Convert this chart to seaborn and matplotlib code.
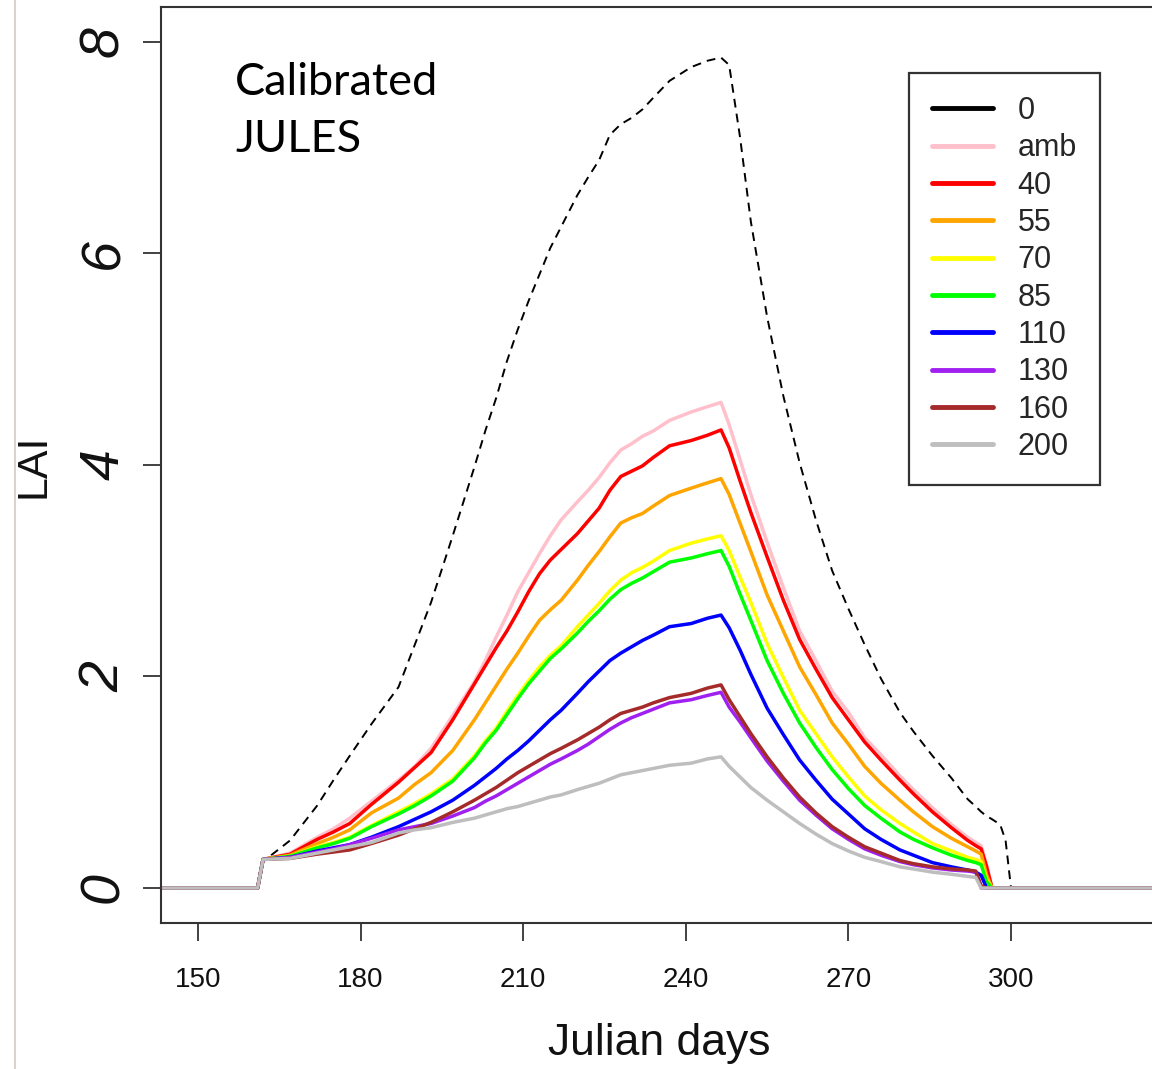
import numpy as np
import pandas as pd
import matplotlib
matplotlib.use("Agg")
import matplotlib.pyplot as plt
import seaborn as sns
from matplotlib.lines import Line2D

# ---------------- data ----------------
days = [143, 161, 162, 167, 172,
        175, 178, 182, 187, 190,
        193, 197, 201, 203, 205,
        207, 209, 211, 213, 215,
        217, 220, 222, 224, 226,
        228, 230, 232, 234, 237,
        241, 244, 246.5, 248, 250,
        252, 255, 258, 261, 264,
        267, 270, 273, 276, 279.5,
        282, 285.5, 289, 292, 293.5,
        294.5, 295.5, 296.5, 298, 299,
        300, 326]

lai_0 = [0, 0, 0.25, 0.45, 0.78,
         1.02, 1.25, 1.55, 1.90, 2.30,
         2.70, 3.33, 3.98, 4.32, 4.63,
         4.98, 5.28, 5.55, 5.80, 6.05,
         6.25, 6.55, 6.72, 6.88, 7.12,
         7.22, 7.28, 7.36, 7.47, 7.63,
         7.76, 7.82, 7.85, 7.78, 7.10,
         6.30, 5.40, 4.65, 4.02, 3.48,
         3.00, 2.64, 2.30, 1.98, 1.66,
         1.48, 1.25, 1.04, 0.84, 0.77,
         0.72, 0.68, 0.65, 0.60, 0.45,
         0, 0]
lai_amb = [0, 0, 0.27, 0.33, 0.48,
           0.56, 0.66, 0.82, 1.02, 1.15,
           1.32, 1.63, 1.95, 2.15, 2.37,
           2.58, 2.80, 2.98, 3.16, 3.33,
           3.48, 3.65, 3.76, 3.88, 4.02,
           4.14, 4.20, 4.27, 4.32, 4.42,
           4.50, 4.55, 4.59, 4.38, 4.05,
           3.72, 3.27, 2.84, 2.43, 2.15,
           1.86, 1.66, 1.42, 1.26, 1.06,
           0.93, 0.76, 0.60, 0.48, 0.43,
           0.40, 0.22, 0, 0, 0,
           0, 0]
lai_40 = [0, 0, 0.27, 0.32, 0.46,
          0.53, 0.61, 0.79, 1.00, 1.14,
          1.28, 1.59, 1.93, 2.10, 2.27,
          2.43, 2.61, 2.80, 2.97, 3.10,
          3.20, 3.35, 3.47, 3.59, 3.76,
          3.89, 3.94, 3.99, 4.07, 4.18,
          4.23, 4.28, 4.33, 4.16, 3.85,
          3.55, 3.13, 2.72, 2.35, 2.07,
          1.80, 1.59, 1.38, 1.21, 1.02,
          0.89, 0.72, 0.57, 0.45, 0.40,
          0.37, 0.20, 0, 0, 0,
          0, 0]
lai_55 = [0, 0, 0.27, 0.31, 0.42,
          0.48, 0.55, 0.71, 0.85, 0.98,
          1.09, 1.30, 1.59, 1.75, 1.91,
          2.07, 2.22, 2.38, 2.53, 2.63,
          2.72, 2.91, 3.05, 3.18, 3.32,
          3.45, 3.50, 3.54, 3.61, 3.71,
          3.78, 3.83, 3.87, 3.72, 3.45,
          3.18, 2.77, 2.43, 2.09, 1.83,
          1.56, 1.36, 1.15, 0.99, 0.83,
          0.72, 0.58, 0.47, 0.39, 0.35,
          0.32, 0.12, 0, 0, 0,
          0, 0]
lai_70 = [0, 0, 0.27, 0.30, 0.39,
          0.43, 0.48, 0.59, 0.72, 0.80,
          0.89, 1.03, 1.25, 1.39, 1.51,
          1.67, 1.82, 1.96, 2.09, 2.20,
          2.29, 2.47, 2.58, 2.69, 2.81,
          2.91, 2.98, 3.03, 3.09, 3.19,
          3.26, 3.30, 3.33, 3.19, 2.94,
          2.70, 2.31, 1.99, 1.68, 1.46,
          1.24, 1.05, 0.87, 0.74, 0.61,
          0.53, 0.42, 0.35, 0.29, 0.27,
          0.25, 0.08, 0, 0, 0,
          0, 0]
lai_85 = [0, 0, 0.27, 0.30, 0.38,
          0.42, 0.47, 0.58, 0.70, 0.78,
          0.87, 1.01, 1.23, 1.37, 1.49,
          1.64, 1.79, 1.93, 2.05, 2.17,
          2.26, 2.41, 2.52, 2.62, 2.73,
          2.82, 2.88, 2.93, 2.99, 3.08,
          3.12, 3.16, 3.19, 3.04, 2.78,
          2.53, 2.15, 1.84, 1.56, 1.33,
          1.12, 0.94, 0.78, 0.66, 0.53,
          0.46, 0.38, 0.31, 0.26, 0.24,
          0.22, 0.06, 0, 0, 0,
          0, 0]
lai_110 = [0, 0, 0.27, 0.29, 0.35,
           0.38, 0.41, 0.48, 0.58, 0.65,
           0.72, 0.83, 0.97, 1.05, 1.13,
           1.22, 1.30, 1.39, 1.49, 1.59,
           1.68, 1.84, 1.95, 2.05, 2.15,
           2.22, 2.28, 2.34, 2.39, 2.47,
           2.50, 2.55, 2.58, 2.46, 2.25,
           2.02, 1.70, 1.45, 1.21, 1.02,
           0.84, 0.70, 0.56, 0.46, 0.36,
           0.31, 0.24, 0.20, 0.17, 0.15,
           0.12, 0, 0, 0, 0,
           0, 0]
lai_130 = [0, 0, 0.27, 0.29, 0.34,
           0.37, 0.41, 0.47, 0.55, 0.58,
           0.61, 0.68, 0.76, 0.82, 0.87,
           0.93, 0.99, 1.05, 1.11, 1.17,
           1.22, 1.30, 1.36, 1.43, 1.50,
           1.56, 1.61, 1.65, 1.69, 1.75,
           1.78, 1.82, 1.85, 1.71, 1.57,
           1.42, 1.20, 1.01, 0.83, 0.69,
           0.56, 0.46, 0.37, 0.31, 0.25,
           0.22, 0.19, 0.17, 0.16, 0.15,
           0, 0, 0, 0, 0,
           0, 0]
lai_160 = [0, 0, 0.27, 0.28, 0.32,
           0.34, 0.36, 0.42, 0.50, 0.56,
           0.62, 0.72, 0.83, 0.89, 0.95,
           1.02, 1.09, 1.15, 1.21, 1.27,
           1.32, 1.40, 1.46, 1.52, 1.59,
           1.65, 1.68, 1.71, 1.75, 1.80,
           1.84, 1.89, 1.92, 1.78, 1.62,
           1.46, 1.24, 1.04, 0.86, 0.71,
           0.58, 0.48, 0.39, 0.33, 0.26,
           0.23, 0.20, 0.18, 0.17, 0.16,
           0.02, 0, 0, 0, 0,
           0, 0]
lai_200 = [0, 0, 0.27, 0.28, 0.33,
           0.36, 0.39, 0.43, 0.52, 0.55,
           0.57, 0.62, 0.66, 0.69, 0.72,
           0.75, 0.77, 0.80, 0.83, 0.86,
           0.88, 0.93, 0.96, 0.99, 1.03,
           1.07, 1.09, 1.11, 1.13, 1.16,
           1.18, 1.22, 1.24, 1.15, 1.05,
           0.95, 0.83, 0.72, 0.61, 0.51,
           0.42, 0.35, 0.29, 0.25, 0.20,
           0.18, 0.15, 0.13, 0.11, 0.10,
           0, 0, 0, 0, 0,
           0, 0]

series_labels = ["0", "amb", "40", "55", "70", "85", "110", "130", "160", "200"]
series_values = [lai_0, lai_amb, lai_40, lai_55, lai_70, lai_85, lai_110, lai_130, lai_160, lai_200]
series_colors = ["#000000", "#FFC0CB", "#FF0000", "#FFA500", "#FFFF00", "#00FF00",
                 "#0000FF", "#A020F0", "#A52A2A", "#BEBEBE"]

xticks = [150, 180, 210, 240, 270, 300]
yticks = [0, 2, 4, 6, 8]

# ---------------- tidy table ----------------
frames = []
for lab, vals in zip(series_labels, series_values):
    frames.append(pd.DataFrame({"day": days, "LAI": vals, "series": lab}))
df = pd.concat(frames, ignore_index=True)

# ---------------- style ----------------
sns.set_style("ticks")
plt.rcParams["font.family"] = ["Liberation Sans", "DejaVu Sans"]

W, H = 1152, 1069
fig = plt.figure(figsize=(W / 100, H / 100), dpi=100)
ax_left, ax_right, ax_top, ax_bottom = 161, 1180, 7, 923
ax = fig.add_axes([ax_left / W, 1 - ax_bottom / H, (ax_right - ax_left) / W, (ax_bottom - ax_top) / H])

# dashed "0" series
sns.lineplot(data=df[df.series == "0"], x="day", y="LAI", color="black", linewidth=1.4,
             estimator=None, sort=False, ax=ax, legend=False)
ax.lines[-1].set_dashes((4.5, 3.2))

# coloured series
col_labels = series_labels[1:]
pal = dict(zip(series_labels, series_colors))
sns.lineplot(data=df[df.series != "0"], x="day", y="LAI", hue="series", hue_order=col_labels,
             palette=pal, linewidth=2.5, estimator=None, sort=False, ax=ax, legend=False)

# axes limits (mapped from pixel positions of the reference)
px_per_day = (1011 - 198) / 150.0
ax.set_xlim(150 - (198 - ax_left) / px_per_day, 150 + (ax_right - 198) / px_per_day)
px_per_unit = (888 - 41.7) / 8.0
ax.set_ylim(-(ax_bottom - 888) / px_per_unit, (888 - ax_top) / px_per_unit)

for sp in ax.spines.values():
    sp.set_color("#333333")
    sp.set_linewidth(1.5)

ax.set_xticks(xticks)
ax.set_xticklabels([str(t) for t in xticks], fontsize=20, color="#111111")
ax.set_yticks(yticks)
ax.set_yticklabels([str(t) for t in yticks], fontsize=40, rotation=90, style="italic",
                   va="center", ha="right", color="#111111")
ax.tick_params(axis="x", length=13, width=1.3, colors="#333333", pad=19, labelcolor="#111111")
ax.tick_params(axis="y", length=13, width=1.3, colors="#333333", pad=9, labelcolor="#111111")

ax.set_xlabel("Julian days", fontsize=32, color="#111111")
ax.xaxis.set_label_coords(659 / W, 1 - 1044 / H, transform=fig.transFigure)
ax.xaxis.label.set_va("center")
ax.set_ylabel("LAI", fontsize=31, color="#111111")
ax.yaxis.set_label_coords(34 / W, 1 - 466 / H, transform=fig.transFigure)
ax.yaxis.label.set_va("center")

# annotation text
fig.text(235 / W, 1 - 95 / H, "Calibrated", fontsize=32.5, family=["Lato", "DejaVu Sans"],
         va="baseline", ha="left", color="black")
fig.text(235 / W, 1 - 152 / H, "JULES", fontsize=32.5, family=["Lato", "DejaVu Sans"],
         va="baseline", ha="left", color="black")

# legend (solid handles, as in the reference)
handles = [Line2D([0], [0], color=c, lw=3.5) for c in series_colors]
leg = ax.legend(handles, series_labels, loc="upper left",
                bbox_to_anchor=(909 / W, 1 - 73 / H), bbox_transform=fig.transFigure,
                fontsize=22, handlelength=2.0, handletextpad=0.8, labelspacing=0.24,
                borderpad=0.75, borderaxespad=0, frameon=True, fancybox=False, framealpha=1)
leg.get_frame().set_edgecolor("#333333")
leg.get_frame().set_linewidth(1.6)

# thin grey border line at the far left of the picture
fig.add_artist(Line2D([15 / W, 15 / W], [0, 1], transform=fig.transFigure,
                      color="#d8d4cc", lw=1.5))

fig.savefig("out.png", dpi=100)
